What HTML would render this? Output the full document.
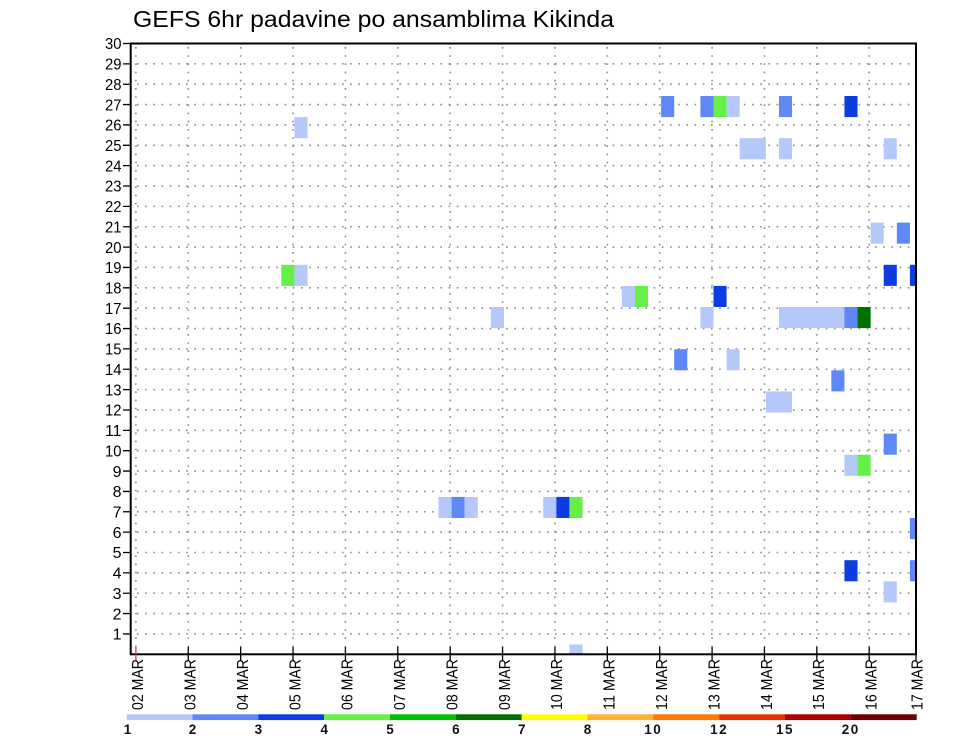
<!DOCTYPE html>
<html><head><meta charset="utf-8"><style>
html,body{margin:0;padding:0;background:#fff;}
svg{display:block;}
</style></head><body>
<svg width="960" height="742" viewBox="0 0 960 742" xmlns="http://www.w3.org/2000/svg">
<rect x="0" y="0" width="960" height="742" fill="#fff"/>
<text x="133" y="27" font-family="Liberation Sans, sans-serif" font-size="23" textLength="481" lengthAdjust="spacingAndGlyphs" fill="#000">GEFS 6hr padavine po ansamblima Kikinda</text>
<defs><clipPath id="pc"><rect x="131" y="43.5" width="785" height="610.8"/></clipPath></defs>
<g stroke="#8a8a8a" stroke-width="1.6" stroke-dasharray="1.6 6.6" fill="none">
<path d="M137 633.94H916M137 613.58H916M137 593.22H916M137 572.86H916M137 552.5H916M137 532.14H916M137 511.78H916M137 491.42H916M137 471.06H916M137 450.7H916M137 430.34H916M137 409.98H916M137 389.62H916M137 369.26H916M137 348.9H916M137 328.54H916M137 308.18H916M137 287.82H916M137 267.46H916M137 247.1H916M137 226.74H916M137 206.38H916M137 186.02H916M137 165.66H916M137 145.3H916M137 124.94H916M137 104.58H916M137 84.22H916M137 63.86H916"/>
<path d="M135.9 47V654M188.28 47V654M240.66 47V654M293.04 47V654M345.42 47V654M397.8 47V654M450.18 47V654M502.56 47V654M554.94 47V654M607.32 47V654M659.7 47V654M712.08 47V654M764.46 47V654M816.84 47V654M869.22 47V654"/>
</g>
<g clip-path="url(#pc)">
<rect x="661.1" y="96" width="13.1" height="21.1" fill="#5f87f5"/>
<rect x="700.39" y="96" width="13.1" height="21.1" fill="#5f87f5"/>
<rect x="713.48" y="96" width="13.1" height="21.1" fill="#64f046"/>
<rect x="726.58" y="96" width="13.1" height="21.1" fill="#b4c8fa"/>
<rect x="778.96" y="96" width="13.1" height="21.1" fill="#5f87f5"/>
<rect x="844.43" y="96" width="13.1" height="21.1" fill="#0d3de0"/>
<rect x="294.44" y="117.1" width="13.1" height="21.1" fill="#b4c8fa"/>
<rect x="739.67" y="138.2" width="26.2" height="21.1" fill="#b4c8fa"/>
<rect x="778.96" y="138.2" width="13.1" height="21.1" fill="#b4c8fa"/>
<rect x="883.72" y="138.2" width="13.1" height="21.1" fill="#b4c8fa"/>
<rect x="870.62" y="222.6" width="13.1" height="21.1" fill="#b4c8fa"/>
<rect x="896.81" y="222.6" width="13.1" height="21.1" fill="#5f87f5"/>
<rect x="281.35" y="264.8" width="13.1" height="21.1" fill="#64f046"/>
<rect x="294.44" y="264.8" width="13.1" height="21.1" fill="#b4c8fa"/>
<rect x="883.72" y="264.8" width="13.1" height="21.1" fill="#0d3de0"/>
<rect x="909.91" y="264.8" width="13.1" height="21.1" fill="#0d3de0"/>
<rect x="621.82" y="285.9" width="13.1" height="21.1" fill="#b4c8fa"/>
<rect x="634.91" y="285.9" width="13.1" height="21.1" fill="#64f046"/>
<rect x="713.48" y="285.9" width="13.1" height="21.1" fill="#0d3de0"/>
<rect x="490.87" y="307" width="13.1" height="21.1" fill="#b4c8fa"/>
<rect x="700.39" y="307" width="13.1" height="21.1" fill="#b4c8fa"/>
<rect x="778.96" y="307" width="65.5" height="21.1" fill="#b4c8fa"/>
<rect x="844.43" y="307" width="13.1" height="21.1" fill="#5f87f5"/>
<rect x="857.53" y="307" width="13.1" height="21.1" fill="#007000"/>
<rect x="674.2" y="349.2" width="13.1" height="21.1" fill="#5f87f5"/>
<rect x="726.58" y="349.2" width="13.1" height="21.1" fill="#b4c8fa"/>
<rect x="831.34" y="370.3" width="13.1" height="21.1" fill="#5f87f5"/>
<rect x="765.86" y="391.4" width="26.2" height="21.1" fill="#b4c8fa"/>
<rect x="883.72" y="433.6" width="13.1" height="21.1" fill="#5f87f5"/>
<rect x="844.43" y="454.7" width="13.1" height="21.1" fill="#b4c8fa"/>
<rect x="857.53" y="454.7" width="13.1" height="21.1" fill="#64f046"/>
<rect x="438.49" y="496.9" width="13.1" height="21.1" fill="#b4c8fa"/>
<rect x="451.58" y="496.9" width="13.1" height="21.1" fill="#5f87f5"/>
<rect x="464.68" y="496.9" width="13.1" height="21.1" fill="#b4c8fa"/>
<rect x="543.25" y="496.9" width="13.1" height="21.1" fill="#b4c8fa"/>
<rect x="556.34" y="496.9" width="13.1" height="21.1" fill="#0d3de0"/>
<rect x="569.44" y="496.9" width="13.1" height="21.1" fill="#64f046"/>
<rect x="909.91" y="518" width="13.1" height="21.1" fill="#5f87f5"/>
<rect x="844.43" y="560.2" width="13.1" height="21.1" fill="#0d3de0"/>
<rect x="909.91" y="560.2" width="13.1" height="21.1" fill="#5f87f5"/>
<rect x="883.72" y="581.3" width="13.1" height="21.1" fill="#b4c8fa"/>
<rect x="569.44" y="644.6" width="13.1" height="21.1" fill="#b4c8fa"/>
</g>
<rect x="130.7" y="43.5" width="785.3" height="610.8" fill="none" stroke="#000" stroke-width="2"/>
<g stroke="#000" stroke-width="1.3">
<path d="M123 633.94H131M123 613.58H131M123 593.22H131M123 572.86H131M123 552.5H131M123 532.14H131M123 511.78H131M123 491.42H131M123 471.06H131M123 450.7H131M123 430.34H131M123 409.98H131M123 389.62H131M123 369.26H131M123 348.9H131M123 328.54H131M123 308.18H131M123 287.82H131M123 267.46H131M123 247.1H131M123 226.74H131M123 206.38H131M123 186.02H131M123 165.66H131M123 145.3H131M123 124.94H131M123 104.58H131M123 84.22H131M123 63.86H131M123 43.5H131"/>
<path d="M188.28 647V661M240.66 647V661M293.04 647V661M345.42 647V661M397.8 647V661M450.18 647V661M502.56 647V661M554.94 647V661M607.32 647V661M659.7 647V661M712.08 647V661M764.46 647V661M816.84 647V661M869.22 647V661M916 647V661"/>
</g>
<path d="M135.9 647V661" stroke="#d04040" stroke-width="1.3"/>
<g font-family="Liberation Sans, sans-serif" font-size="16" fill="#000" text-anchor="end">
<text x="121.5" y="639.6">1</text>
<text x="121.5" y="619.3">2</text>
<text x="121.5" y="598.9">3</text>
<text x="121.5" y="578.6">4</text>
<text x="121.5" y="558.2">5</text>
<text x="121.5" y="537.8">6</text>
<text x="121.5" y="517.5">7</text>
<text x="121.5" y="497.1">8</text>
<text x="121.5" y="476.8">9</text>
<text x="121.5" y="456.4" textLength="16.5" lengthAdjust="spacingAndGlyphs">10</text>
<text x="121.5" y="436" textLength="16.5" lengthAdjust="spacingAndGlyphs">11</text>
<text x="121.5" y="415.7" textLength="16.5" lengthAdjust="spacingAndGlyphs">12</text>
<text x="121.5" y="395.3" textLength="16.5" lengthAdjust="spacingAndGlyphs">13</text>
<text x="121.5" y="375" textLength="16.5" lengthAdjust="spacingAndGlyphs">14</text>
<text x="121.5" y="354.6" textLength="16.5" lengthAdjust="spacingAndGlyphs">15</text>
<text x="121.5" y="334.2" textLength="16.5" lengthAdjust="spacingAndGlyphs">16</text>
<text x="121.5" y="313.9" textLength="16.5" lengthAdjust="spacingAndGlyphs">17</text>
<text x="121.5" y="293.5" textLength="16.5" lengthAdjust="spacingAndGlyphs">18</text>
<text x="121.5" y="273.2" textLength="16.5" lengthAdjust="spacingAndGlyphs">19</text>
<text x="121.5" y="252.8" textLength="16.5" lengthAdjust="spacingAndGlyphs">20</text>
<text x="121.5" y="232.4" textLength="16.5" lengthAdjust="spacingAndGlyphs">21</text>
<text x="121.5" y="212.1" textLength="16.5" lengthAdjust="spacingAndGlyphs">22</text>
<text x="121.5" y="191.7" textLength="16.5" lengthAdjust="spacingAndGlyphs">23</text>
<text x="121.5" y="171.4" textLength="16.5" lengthAdjust="spacingAndGlyphs">24</text>
<text x="121.5" y="151" textLength="16.5" lengthAdjust="spacingAndGlyphs">25</text>
<text x="121.5" y="130.6" textLength="16.5" lengthAdjust="spacingAndGlyphs">26</text>
<text x="121.5" y="110.3" textLength="16.5" lengthAdjust="spacingAndGlyphs">27</text>
<text x="121.5" y="89.9" textLength="16.5" lengthAdjust="spacingAndGlyphs">28</text>
<text x="121.5" y="69.6" textLength="16.5" lengthAdjust="spacingAndGlyphs">29</text>
<text x="121.5" y="49.2" textLength="16.5" lengthAdjust="spacingAndGlyphs">30</text>
</g>
<g font-family="Liberation Sans, sans-serif" font-size="16" fill="#000" text-anchor="end">
<text transform="translate(143.2,659) rotate(-90)" textLength="51" lengthAdjust="spacingAndGlyphs">02 MAR</text>
<text transform="translate(195.6,659) rotate(-90)" textLength="51" lengthAdjust="spacingAndGlyphs">03 MAR</text>
<text transform="translate(248,659) rotate(-90)" textLength="51" lengthAdjust="spacingAndGlyphs">04 MAR</text>
<text transform="translate(300.3,659) rotate(-90)" textLength="51" lengthAdjust="spacingAndGlyphs">05 MAR</text>
<text transform="translate(352.7,659) rotate(-90)" textLength="51" lengthAdjust="spacingAndGlyphs">06 MAR</text>
<text transform="translate(405.1,659) rotate(-90)" textLength="51" lengthAdjust="spacingAndGlyphs">07 MAR</text>
<text transform="translate(457.5,659) rotate(-90)" textLength="51" lengthAdjust="spacingAndGlyphs">08 MAR</text>
<text transform="translate(509.9,659) rotate(-90)" textLength="51" lengthAdjust="spacingAndGlyphs">09 MAR</text>
<text transform="translate(562.2,659) rotate(-90)" textLength="51" lengthAdjust="spacingAndGlyphs">10 MAR</text>
<text transform="translate(614.6,659) rotate(-90)" textLength="51" lengthAdjust="spacingAndGlyphs">11 MAR</text>
<text transform="translate(667,659) rotate(-90)" textLength="51" lengthAdjust="spacingAndGlyphs">12 MAR</text>
<text transform="translate(719.4,659) rotate(-90)" textLength="51" lengthAdjust="spacingAndGlyphs">13 MAR</text>
<text transform="translate(771.8,659) rotate(-90)" textLength="51" lengthAdjust="spacingAndGlyphs">14 MAR</text>
<text transform="translate(824.1,659) rotate(-90)" textLength="51" lengthAdjust="spacingAndGlyphs">15 MAR</text>
<text transform="translate(876.5,659) rotate(-90)" textLength="51" lengthAdjust="spacingAndGlyphs">16 MAR</text>
<text transform="translate(922.5,659) rotate(-90)" textLength="51" lengthAdjust="spacingAndGlyphs">17 MAR</text>
</g>
<g>
<rect x="126.7" y="714.3" width="65.9" height="5.8" fill="#b4c8fa"/>
<rect x="192.53" y="714.3" width="65.9" height="5.8" fill="#5f87f5"/>
<rect x="258.36" y="714.3" width="65.9" height="5.8" fill="#0d3de0"/>
<rect x="324.19" y="714.3" width="65.9" height="5.8" fill="#64f046"/>
<rect x="390.02" y="714.3" width="65.9" height="5.8" fill="#00c000"/>
<rect x="455.85" y="714.3" width="65.9" height="5.8" fill="#007000"/>
<rect x="521.68" y="714.3" width="65.9" height="5.8" fill="#ffff00"/>
<rect x="587.51" y="714.3" width="65.9" height="5.8" fill="#ffb030"/>
<rect x="653.34" y="714.3" width="65.9" height="5.8" fill="#ff7800"/>
<rect x="719.17" y="714.3" width="65.9" height="5.8" fill="#e63200"/>
<rect x="785" y="714.3" width="65.9" height="5.8" fill="#aa0000"/>
<rect x="850.83" y="714.3" width="65.87" height="5.8" fill="#6e0000"/>
</g>
<g font-family="Liberation Sans, sans-serif" font-size="13.5" font-weight="bold" fill="#111" text-anchor="middle">
<text x="127.5" y="734">1</text>
<text x="192.5" y="734">2</text>
<text x="258.4" y="734">3</text>
<text x="324.2" y="734">4</text>
<text x="390" y="734">5</text>
<text x="455.9" y="734">6</text>
<text x="521.7" y="734">7</text>
<text x="587.5" y="734">8</text>
<text x="653.3" y="734" letter-spacing="1.5">10</text>
<text x="719.2" y="734" letter-spacing="1.5">12</text>
<text x="785" y="734" letter-spacing="1.5">15</text>
<text x="850.8" y="734" letter-spacing="1.5">20</text>
</g>
</svg>
</body></html>
